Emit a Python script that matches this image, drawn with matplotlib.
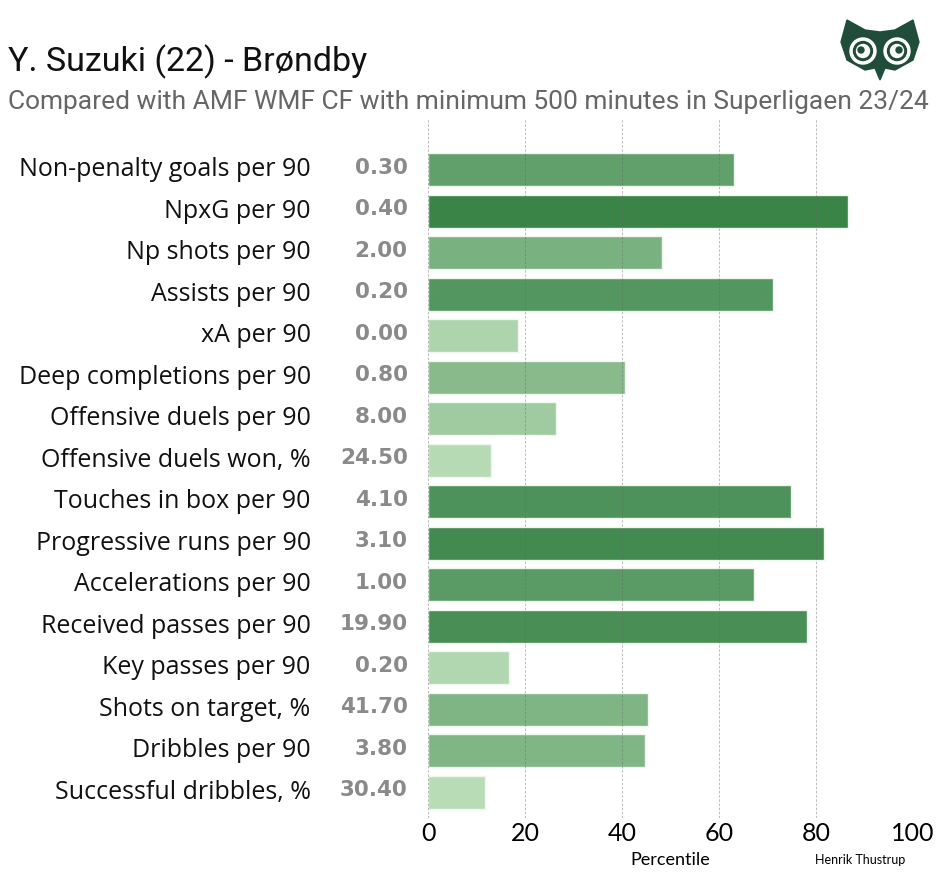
import numpy as np
import matplotlib.pyplot as plt
from matplotlib.colors import LinearSegmentedColormap
from matplotlib.patches import Polygon, Circle

metrics = ["Non-penalty goals per 90", "NpxG per 90", "Np shots per 90", "Assists per 90",
           "xA per 90", "Deep completions per 90", "Offensive duels per 90",
           "Offensive duels won, %", "Touches in box per 90", "Progressive runs per 90",
           "Accelerations per 90", "Received passes per 90", "Key passes per 90",
           "Shots on target, %", "Dribbles per 90", "Successful dribbles, %"]
values = [0.30, 0.40, 2.00, 0.20, 0.00, 0.80, 8.00, 24.50, 4.10, 3.10, 1.00, 19.90,
          0.20, 41.70, 3.80, 30.40]
percentiles = [63.1, 86.6, 48.2, 71.1, 18.6, 40.6, 26.4, 12.9, 74.9, 81.6, 67.3, 78.1,
               16.7, 45.4, 44.7, 11.8]
xticks = [0, 20, 40, 60, 80, 100]

cmap = LinearSegmentedColormap.from_list("pct", ["#cceac7", "#237435"])

fig = plt.figure(figsize=(9.5, 8.77), dpi=100)
ax = fig.add_axes([428 / 950, 1 - 818 / 877, 485 / 950, 700 / 877])

y = np.arange(len(metrics))
ax.barh(y, percentiles, height=0.79, color=[cmap(p / 100) for p in percentiles],
        edgecolor="#eef6ee", linewidth=1, zorder=2)
ax.set_xlim(0, 100)
ax.set_ylim(len(metrics) - 0.38, -1.25)

for x in xticks:
    ax.axvline(x, color="#666666", lw=0.6, ls=(0, (3, 2)), alpha=0.5, zorder=3)

ax.set_xticks(xticks)
ax.set_xticklabels([str(t) for t in xticks], fontsize=18, family="Lato")
ax.tick_params(axis="x", length=0, pad=3)
ax.set_yticks([])
for s in ax.spines.values():
    s.set_visible(False)

for i, (m, v) in enumerate(zip(metrics, values)):
    ax.text(-0.242, i, m, transform=ax.get_yaxis_transform(), ha="right", va="center",
            fontsize=18, family="Open Sans", color="#111111")
    ax.text(-0.042, i - 0.05, f"{v:.2f}", transform=ax.get_yaxis_transform(), ha="right",
            va="center", fontsize=15.5, weight="bold", family="DejaVu Sans", color="#8a8a8a")

fig.text(670 / 950, 1 - 860 / 877, "Percentile", ha="center", va="center",
         fontsize=13, family="Lato")
fig.text(860 / 950, 1 - 860 / 877, "Henrik Thustrup", ha="center", va="center",
         fontsize=9, family="Lato")

fig.text(8 / 950, 1 - 62 / 877, "Y. Suzuki (22) - Brøndby", ha="left", va="center",
         fontsize=24.5, family="Roboto", color="#111111")
fig.text(8 / 950, 1 - 102 / 877,
         "Compared with AMF WMF CF with minimum 500 minutes in Superligaen 23/24",
         ha="left", va="center", fontsize=19, family="Roboto", color="#666666")

# owl logo
lg = fig.add_axes([835 / 950, 1 - 82 / 877, 90 / 950, 70 / 877])
lg.set_xlim(0, 90)
lg.set_ylim(0, 70)
lg.axis("off")
owl = "#1f4d3a"
lg.add_patch(Polygon([[12, 62], [30, 52], [45, 50], [60, 52], [78, 62], [84, 40],
                      [78, 22], [60, 12], [50, 14], [45, 2], [40, 14], [30, 12],
                      [12, 22], [6, 40]], closed=True, color=owl))
for cx in (28, 62):
    lg.add_patch(Circle((cx, 31), 13, color="white"))
    lg.add_patch(Circle((cx, 31), 9.5, color=owl))
    lg.add_patch(Circle((cx, 31), 6.5, color="white"))
    lg.add_patch(Circle((cx + (2 if cx > 45 else -2), 32), 3, color=owl))

fig.savefig("out.png", dpi=100, facecolor="white")
